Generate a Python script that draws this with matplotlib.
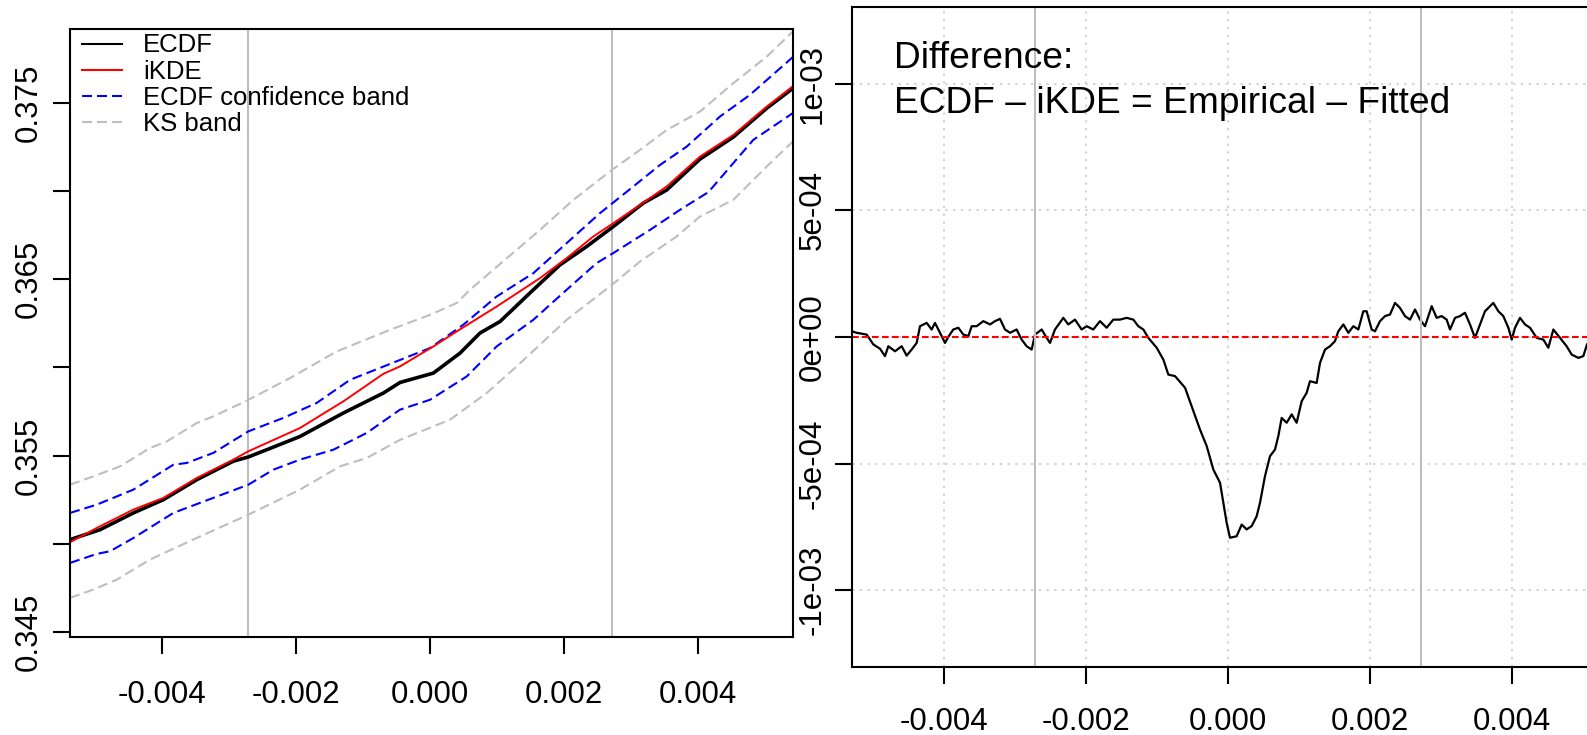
import matplotlib
matplotlib.use("Agg")
import matplotlib.pyplot as plt
from matplotlib.lines import Line2D

plt.rcParams['font.family'] = ['Liberation Sans', 'DejaVu Sans']
plt.rcParams['axes.unicode_minus'] = False

# ---- left panel: ECDF vs iKDE with bands ----
ikde_x = [-0.005379, -0.004980, -0.004433, -0.003985, -0.003486, -0.002939, -0.002715, -0.002440,
          -0.001943, -0.001295, -0.000697, -0.000448, 0.0000498, 0.000399, 0.000996, 0.001644,
          0.002042, 0.002441, 0.002739, 0.003138, 0.003537, 0.004034, 0.004533, 0.005031, 0.005430]
ikde_y = [0.35010, 0.35091, 0.35195, 0.35261, 0.35374, 0.35478, 0.35525, 0.35572,
          0.35657, 0.35808, 0.35964, 0.36006, 0.36119, 0.36204, 0.36345, 0.36506,
          0.36619, 0.36742, 0.36817, 0.36921, 0.37025, 0.37194, 0.37317, 0.37477, 0.37595]

ecdf_x = [-0.005379, -0.004931, -0.004433, -0.003985, -0.003486, -0.002939, -0.002715, -0.002440,
          -0.001943, -0.001295, -0.000946, -0.000697, -0.000448, 0.0000498, 0.000448, 0.000747,
          0.001046, 0.001544, 0.001943, 0.002341, 0.002739, 0.003188, 0.003537, 0.004034,
          0.004533, 0.005031, 0.005430]
ecdf_y = [0.35025, 0.35081, 0.35176, 0.35251, 0.35364, 0.35469, 0.35493, 0.35534,
          0.35609, 0.35742, 0.35808, 0.35855, 0.35915, 0.35968, 0.36081, 0.36195,
          0.36260, 0.36440, 0.36581, 0.36685, 0.36798, 0.36931, 0.37005, 0.37180,
          0.37305, 0.37468, 0.37583]

conf_up_x = [-0.005379, -0.004980, -0.004433, -0.003836, -0.003636, -0.003238, -0.002715, -0.002192,
             -0.001693, -0.001195, 0.0, 0.000498, 0.000996, 0.001544, 0.002042, 0.002540,
             0.003038, 0.003437, 0.003836, 0.004333, 0.004781, 0.005419]
conf_up_y = [0.35176, 0.35223, 0.35308, 0.35449, 0.35459, 0.35516, 0.35638, 0.35714,
             0.35799, 0.35930, 0.36110, 0.36242, 0.36402, 0.36534, 0.36704, 0.36874,
             0.37025, 0.37147, 0.37251, 0.37421, 0.37544, 0.37757]

conf_lo_x = [-0.005379, -0.004980, -0.004781, -0.004433, -0.003836, -0.002715, -0.002341, -0.001943,
             -0.001445, -0.000946, -0.000448, 0.0, 0.000548, 0.000996, 0.001544, 0.002042,
             0.002490, 0.002739, 0.003287, 0.003736, 0.004160, 0.004831, 0.005419]
conf_lo_y = [0.34893, 0.34944, 0.34959, 0.35034, 0.35176, 0.35336, 0.35421, 0.35478,
             0.35534, 0.35629, 0.35761, 0.35817, 0.35949, 0.36119, 0.36270, 0.36440,
             0.36591, 0.36648, 0.36779, 0.36893, 0.36993, 0.37289, 0.37440]

ks_up_x = [-0.005379, -0.005031, -0.004632, -0.004184, -0.003934, -0.003487, -0.003238, -0.002739,
           -0.002092, -0.001394, -0.000598, 0.0, 0.000399, 0.000598, 0.001046, 0.001644,
           0.002141, 0.002719, 0.003138, 0.003537, 0.004034, 0.004532, 0.005031, 0.005420]
ks_up_y = [0.35336, 0.35383, 0.35440, 0.35544, 0.35581, 0.35685, 0.35723, 0.35812,
           0.35940, 0.36091, 0.36213, 0.36298, 0.36365, 0.36440, 0.36586, 0.36779,
           0.36949, 0.37119, 0.37232, 0.37345, 0.37449, 0.37610, 0.37760, 0.37902]

ks_lo_x = [-0.005379, -0.005031, -0.004682, -0.004184, -0.003487, -0.002715, -0.001943, -0.001345,
           -0.000946, -0.000448, 0.000299, 0.000847, 0.001295, 0.002042, 0.002719, 0.003138,
           0.003686, 0.004034, 0.004532, 0.005031, 0.005420]
ks_lo_y = [0.34695, 0.34742, 0.34798, 0.34912, 0.35034, 0.35166, 0.35308, 0.35440,
           0.35487, 0.35590, 0.35704, 0.35855, 0.36006, 0.36270, 0.36468, 0.36600,
           0.36742, 0.36855, 0.36949, 0.37138, 0.37279]

# ---- right panel: ECDF - iKDE ----
diff_x = [-0.005296, -0.005226, -0.005085, -0.004991, -0.004897, -0.004827, -0.004780, -0.004686,
          -0.004592, -0.004522, -0.004451, -0.004381, -0.004334, -0.004240, -0.004170, -0.004123,
          -0.004052, -0.003982, -0.003935, -0.003865, -0.003794, -0.003724, -0.003653, -0.003606,
          -0.003536, -0.003442, -0.003348, -0.003278, -0.003207, -0.003137, -0.003066, -0.002973,
          -0.002902, -0.002832, -0.002761, -0.002714, -0.002620, -0.002550, -0.002503, -0.002433,
          -0.002315, -0.002245, -0.002151, -0.002057, -0.001986, -0.001893, -0.001799, -0.001705,
          -0.001611, -0.001517, -0.001423, -0.001329, -0.001259, -0.001188, -0.001118, -0.001000,
          -0.000906, -0.000836, -0.000742, -0.000601, -0.000483,
          -0.000390, -0.000296, -0.000202, -0.000108, -0.0000146, 0.0000324, 0.000126, 0.000197,
          0.000267, 0.000338, 0.000408, 0.000455, 0.000525, 0.000596, 0.000666, 0.000713,
          0.000760, 0.000831, 0.000901, 0.000971, 0.001042, 0.001112, 0.001159, 0.001253,
          0.001300, 0.001371, 0.001441, 0.001511, 0.001558, 0.001629, 0.001699, 0.001770,
          0.001840, 0.001910, 0.001957, 0.002028, 0.002075, 0.002145, 0.002216, 0.002286,
          0.002357, 0.002427, 0.002497, 0.002568, 0.002638, 0.002709, 0.002779, 0.002873,
          0.002943, 0.003014, 0.003084, 0.003131, 0.003202, 0.003272, 0.003342, 0.003413,
          0.003483, 0.003554, 0.003624, 0.003741, 0.003812, 0.003882, 0.003953, 0.004000,
          0.004047, 0.004117, 0.004188, 0.004258, 0.004352, 0.004446, 0.004516, 0.004587,
          0.004680, 0.004774, 0.004845, 0.004939, 0.005009, 0.005061]
diff_y = [2.2e-5, 1.6e-5, 0.9e-5, -3.0e-5, -4.7e-5, -7.6e-5, -3.7e-5, -5.7e-5,
          -3.7e-5, -7.4e-5, -5.0e-5, -2.4e-5, 4.2e-5, 5.5e-5, 2.9e-5, 5.5e-5,
          1.6e-5, -2.4e-5, 0.0, 2.9e-5, 3.6e-5, 0.9e-5, 0.3e-5, 4.2e-5,
          4.2e-5, 6.2e-5, 4.9e-5, 6.2e-5, 7.1e-5, 2.9e-5, 1.6e-5, 2.9e-5,
          -1.1e-5, -3.7e-5, -5.0e-5, 0.9e-5, 2.9e-5, -0.4e-5, -2.4e-5, 2.9e-5,
          7.5e-5, 4.9e-5, 6.8e-5, 2.9e-5, 4.2e-5, 2.9e-5, 6.2e-5, 3.6e-5,
          6.8e-5, 6.8e-5, 7.5e-5, 6.8e-5, 4.2e-5, 2.9e-5, -0.4e-5, -4.3e-5,
          -9.0e-5, -14.9e-5, -15.5e-5, -20.1e-5, -29.3e-5,
          -36.6e-5, -43.1e-5, -52.4e-5, -57.6e-5, -73.4e-5, -79.3e-5, -78.7e-5, -74.1e-5,
          -76.0e-5, -74.7e-5, -70.8e-5, -65.5e-5, -55.0e-5, -47.1e-5, -44.5e-5, -39.2e-5,
          -32.0e-5, -33.9e-5, -30.6e-5, -33.9e-5, -25.4e-5, -22.1e-5, -17.5e-5, -18.2e-5,
          -10.3e-5, -5.0e-5, -3.7e-5, -1.7e-5, 2.2e-5, 4.9e-5, 1.6e-5, 4.2e-5,
          2.9e-5, 10.1e-5, 10.1e-5, 2.9e-5, 2.2e-5, 6.2e-5, 8.2e-5, 8.8e-5,
          13.4e-5, 11.4e-5, 8.2e-5, 6.8e-5, 10.8e-5, 6.8e-5, 4.2e-5, 12.1e-5,
          7.5e-5, 8.2e-5, 6.8e-5, 2.9e-5, 7.5e-5, 8.2e-5, 9.5e-5, 4.9e-5,
          -0.4e-5, 4.9e-5, 10.1e-5, 13.4e-5, 10.1e-5, 8.2e-5, 3.6e-5, -1.1e-5,
          3.6e-5, 7.5e-5, 4.9e-5, 3.6e-5, -0.4e-5, -1.1e-5, -4.3e-5, 2.9e-5,
          -0.4e-5, -3.7e-5, -7.0e-5, -8.3e-5, -7.6e-5, -3.0e-5]

cut_points = [-0.00272, 0.00272]
x_ticks = [-0.004, -0.002, 0.0, 0.002, 0.004]
x_labels = ["-0.004", "-0.002", "0.000", "0.002", "0.004"]
left_yticks = [0.345, 0.350, 0.355, 0.360, 0.365, 0.370, 0.375]
left_ylabels = ["0.345", "", "0.355", "", "0.365", "", "0.375"]
right_yticks = [-1e-3, -5e-4, 0.0, 5e-4, 1e-3]
right_ylabels = ["-1e-03", "-5e-04", "0e+00", "5e-04", "1e-03"]

W, H = 1587, 735
fig = plt.figure(figsize=(W / 100, H / 100), dpi=100)


def px_box(l, t, r, b):
    return [l / W, 1 - b / H, (r - l) / W, (b - t) / H]


ax1 = fig.add_axes(px_box(70, 29, 792.7, 636.7))
ax2 = fig.add_axes(px_box(851.7, 7, 851.7 + 752, 666.7))

GRAY = "#bebebe"
dash = (4.8, 2.4)

# left panel
for c in cut_points:
    ax1.axvline(c, color=GRAY, lw=1.5, zorder=1)
ax1.plot(ks_up_x, ks_up_y, color=GRAY, lw=1.5, dashes=dash)
ax1.plot(ks_lo_x, ks_lo_y, color=GRAY, lw=1.5, dashes=dash)
ax1.plot(conf_up_x, conf_up_y, color="blue", lw=1.5, dashes=dash)
ax1.plot(conf_lo_x, conf_lo_y, color="blue", lw=1.5, dashes=dash)
ax1.plot(ecdf_x, ecdf_y, color="black", lw=2.6)
ax1.plot(ikde_x, ikde_y, color="red", lw=1.4)

ax1.set_xlim(-0.00538, 0.00542)
ax1.set_ylim(0.34475, 0.37917)
ax1.set_xticks(x_ticks)
ax1.set_xticklabels(x_labels)
ax1.set_yticks(left_yticks)
ax1.set_yticklabels(left_ylabels, rotation=90, va="center")

handles = [Line2D([], [], color="black", lw=1.5),
           Line2D([], [], color="red", lw=1.5),
           Line2D([], [], color="blue", lw=1.5, dashes=dash),
           Line2D([], [], color=GRAY, lw=1.5, dashes=dash)]
fig.legend(handles, ["ECDF", "iKDE", "ECDF confidence band", "KS band"],
           loc="upper left", bbox_to_anchor=(81.7 / W, 1 - 33.5 / H),
           frameon=False, fontsize=18.5, borderpad=0, borderaxespad=0,
           handlelength=1.55, handletextpad=0.83, labelspacing=0.09)

# right panel
for t in x_ticks:
    ax2.axvline(t, color="#d3d3d3", lw=1.4, dashes=(1.2, 2.8), zorder=0)
for t in right_yticks:
    ax2.axhline(t, color="#d3d3d3", lw=1.4, dashes=(1.2, 2.8), zorder=0)
ax2.plot(diff_x, diff_y, color="black", lw=1.6)
ax2.axhline(0, color="red", lw=1.5, dashes=(3.2, 1.6))
for c in cut_points:
    ax2.axvline(c, color=GRAY, lw=1.5)

ax2.set_xlim(-0.005296, 0.005296)
ax2.set_ylim(-1.302e-3, 1.302e-3)
ax2.set_xticks(x_ticks)
ax2.set_xticklabels(x_labels)
ax2.set_yticks(right_yticks)
ax2.set_yticklabels(right_ylabels, rotation=90, va="center")

fig.text(893.7 / W, 1 - 68.3 / H, "Difference:", fontsize=26.7, va="baseline")
fig.text(893.7 / W, 1 - 113.3 / H, "ECDF \u2013 iKDE = Empirical \u2013 Fitted", fontsize=26.7, va="baseline")

for ax in (ax1, ax2):
    for s in ax.spines.values():
        s.set_linewidth(1.5)
    ax.tick_params(direction="out", length=12, width=1.5, labelsize=22.5)
ax1.tick_params(axis="x", pad=19)
ax1.tick_params(axis="y", pad=7)
ax2.tick_params(axis="x", pad=17.3)
ax2.tick_params(axis="y", pad=5.5)

fig.savefig("out.png", dpi=100)
